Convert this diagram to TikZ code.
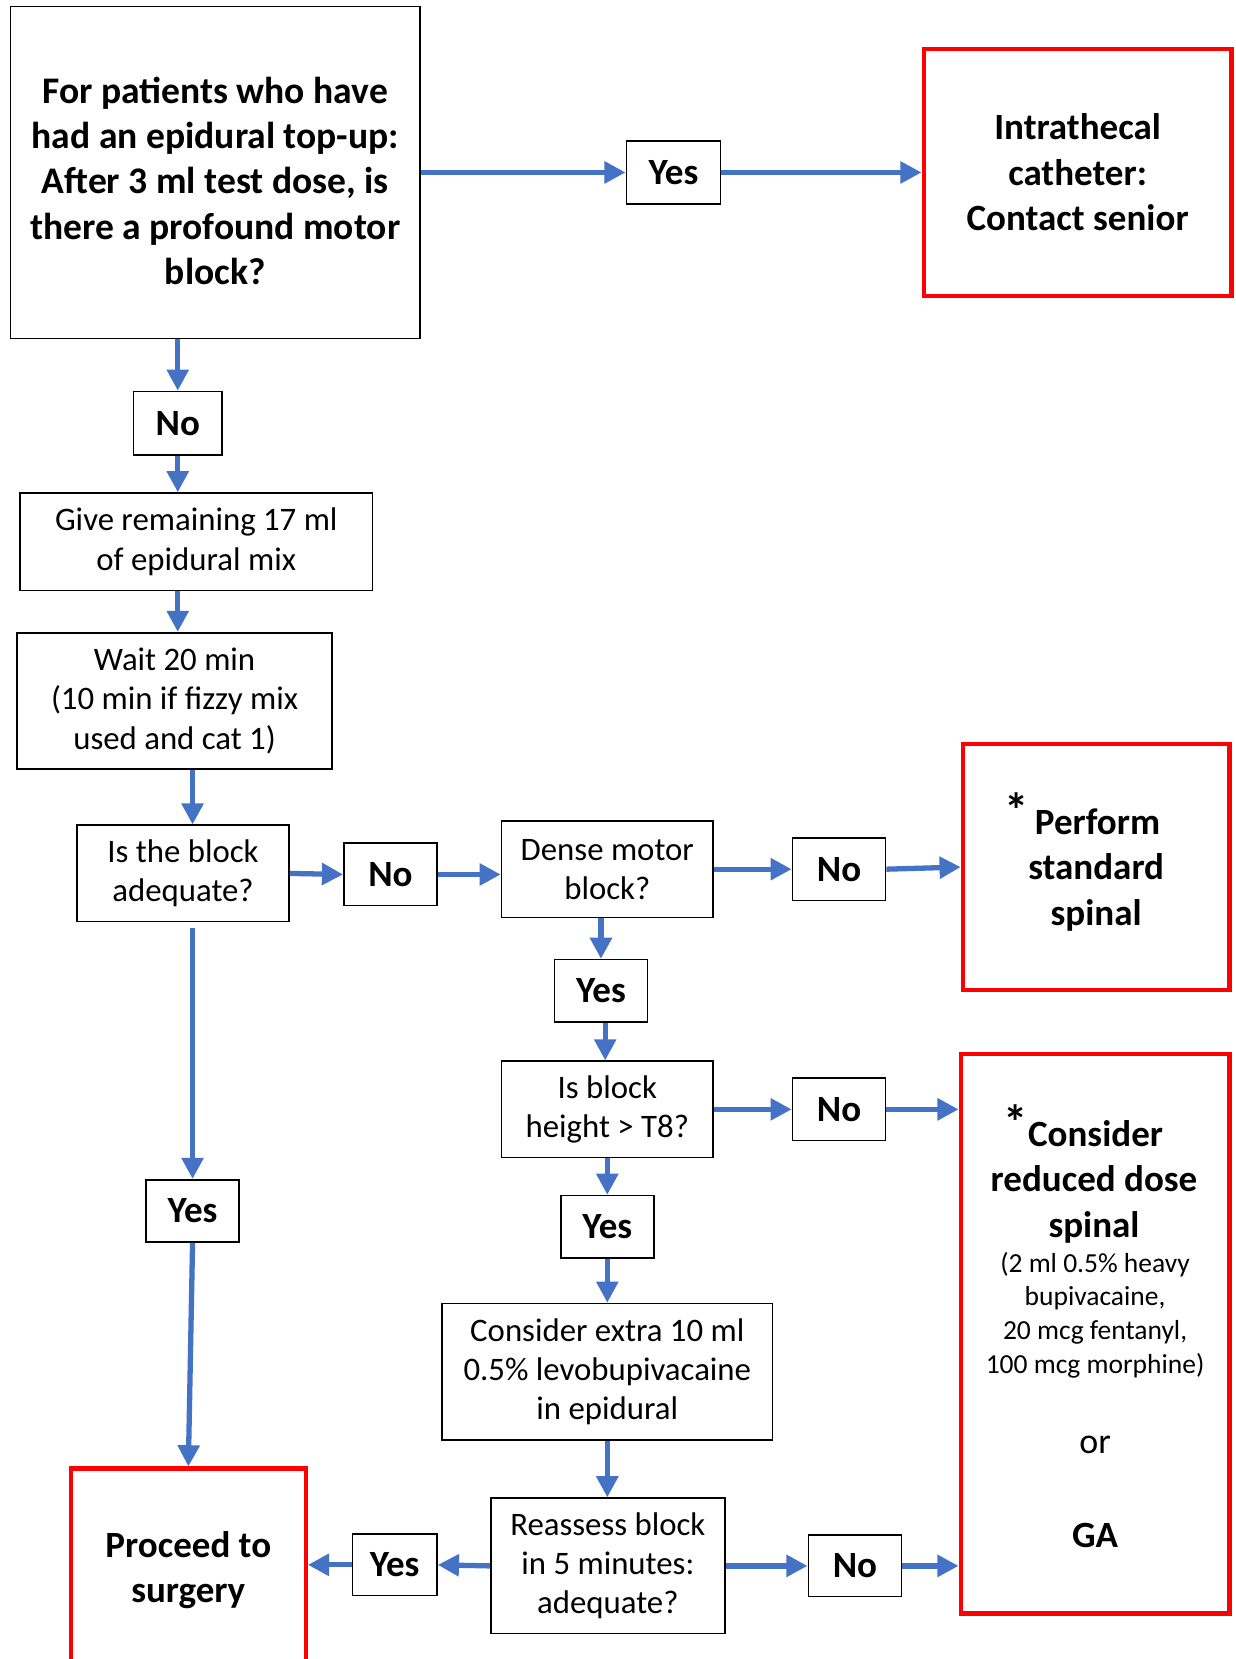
\documentclass[tikz,border=0pt]{standalone}
\usepackage{fontspec}
\setmainfont{Carlito}
\usetikzlibrary{arrows.meta,calc}
\definecolor{arrblue}{HTML}{4472C4}
\definecolor{redbox}{HTML}{FF0000}
\newcommand{\bigast}{\smash{\raisebox{0.18em}{\fontsize{46}{46}\selectfont *}}}
\begin{document}
\begin{tikzpicture}[x=1pt,y=-1pt,
  box/.style={draw=black,line width=1.5pt,inner sep=0pt,align=center},
  redb/.style={draw=redbox,line width=4pt,inner sep=0pt,align=center},
  reg/.style={font=\fontsize{31}{37}\selectfont},
  bbig/.style={font=\bfseries\fontsize{35}{43}\selectfont},
  bmain/.style={font=\bfseries\fontsize{35.5}{43}\selectfont},
  yn/.style={font=\bfseries\fontsize{35}{38}\selectfont},
  small/.style={font=\fontsize{26}{32}\selectfont},
  arr/.style={draw=arrblue,line width=5pt,-{Triangle[length=20pt,width=20pt]}}
]
\clip (0,0) rectangle (1168,1568);
\fill[white] (0,0) rectangle (1168,1568);

% boxes
\node[box,minimum width=387pt,minimum height=314pt] (main) at (203.5,163) {};
\node[bmain,align=center] (maintxt) at (203.5,171)
  {For patients who have\\had an epidural top-up:\\After 3 ml test dose, is\\there a profound motor\\block?};
\node[box,yn,minimum width=89pt,minimum height=60pt] (yes1) at (636.5,163) {Yes};
\node[redb,bbig,minimum width=291pt,minimum height=234pt] (intra) at (1018.5,163)
  {Intrathecal\\catheter:\\Contact senior};
\node[box,yn,minimum width=84pt,minimum height=60pt] (no1) at (168,400) {No};
\node[box,reg,minimum width=333pt,minimum height=92pt] (give) at (185.5,512)
  {Give remaining 17 ml\\of epidural mix};
\node[box,reg,minimum width=298pt,minimum height=129pt] (wait) at (165,662.5)
  {Wait 20 min\\(10 min if fizzy mix\\used and cat 1)};
\node[box,reg,minimum width=200pt,minimum height=91pt] (adeq) at (173,825.5)
  {Is the block\\adequate?};
\node[box,yn,minimum width=88pt,minimum height=59pt] (no2) at (369,826.5) {No};
\node[box,reg,minimum width=200pt,minimum height=91pt] (dense) at (574,821.5)
  {Dense motor\\block?};
\node[box,yn,minimum width=88pt,minimum height=59pt] (no3) at (793,821.5) {No};
\node[redb,minimum width=252pt,minimum height=233pt] (perform) at (1036,819.5) {};
\node[bbig,align=center] (ptxt) at (1036,822)
  {\bigast\,Perform\hspace*{26pt}\\standard\\spinal};
\node[box,yn,minimum width=88pt,minimum height=59pt] (yes2) at (568,936.5) {Yes};
\node[box,reg,minimum width=200pt,minimum height=91pt] (t8) at (574,1048.5)
  {Is block\\height > T8?};
\node[box,yn,minimum width=88pt,minimum height=59pt] (no4) at (793,1048.5) {No};
\node[redb,minimum width=254pt,minimum height=529pt] (consider) at (1035,1260.5) {};
\node[bbig,align=center] (ctxt) at (1034,1117) {\bigast Consider\hspace*{20pt}\\reduced dose\\spinal};
\node[small,align=center] (cdose) at (1035,1243) {(2 ml 0.5\% heavy\\bupivacaine,\\20 mcg fentanyl,\\100 mcg morphine)};
\node[font=\fontsize{34}{40}\selectfont] (cor) at (1035,1366) {or};
\node[bbig] (cga) at (1035,1451) {GA};
\node[box,yn,minimum width=88pt,minimum height=59pt] (yes3) at (574,1159.5) {Yes};
\node[box,reg,minimum width=312pt,minimum height=129pt] (extra) at (574,1296.5)
  {Consider extra 10 ml\\0.5\% levobupivacaine\\in epidural};
\node[box,reg,minimum width=221pt,minimum height=128pt] (reass) at (574.5,1480)
  {Reassess block\\in 5 minutes:\\adequate?};
\node[box,yn,minimum width=80pt,minimum height=58pt] (yes4) at (373,1479) {Yes};
\node[redb,bbig,minimum width=222pt,minimum height=192pt] (proceed) at (178,1484)
  {Proceed to\\surgery};
\node[box,yn,minimum width=88pt,minimum height=58pt] (no5) at (808,1480) {No};
\node[box,yn,minimum width=88pt,minimum height=59pt] (yes5) at (182,1144.5) {Yes};

% connectors
\draw[arr] (main.east) -- (yes1.west);
\draw[arr] (yes1.east) -- (intra.west);
\draw[arr] (no1.north |- main.south) -- (no1.north);
\draw[arr] (no1.south) -- (no1.south |- give.north);
\draw[arr] (no1.south |- give.south) -- (no1.south |- wait.north);
\draw[arr] (yes5.north |- wait.south) -- (yes5.north |- adeq.north);
\draw[arr] (adeq.east) -- (no2.west);
\draw[arr] (no2.east) -- (no2.east -| dense.west);
\draw[arr] (dense.east) -- (no3.west);
\draw[arr] (no3.east) -- (perform.west);
\draw[arr] (yes2.north |- dense.south) -- (yes2.north);
\draw[arr] ([xshift=4pt]yes2.south) -- ([xshift=4pt]yes2.south |- t8.north);
\draw[arr] (t8.east) -- (no4.west);
\draw[arr] (no4.east) -- (no4.east -| consider.west);
\draw[arr] (yes3.north |- t8.south) -- (yes3.north);
\draw[arr] (yes3.south) -- (yes3.south |- extra.north);
\draw[arr] (extra.south) -- (extra.south |- reass.north);
\draw[arr] (reass.west) -- (yes4.east);
\draw[arr] (yes4.west) -- (yes4.west -| proceed.east);
\draw[arr] (reass.east) -- (no5.west);
\draw[arr] (no5.east) -- (no5.east -| consider.west);
\draw[arr] ([yshift=-5pt]yes5.north |- adeq.south) -- (yes5.north);
\draw[arr] (yes5.south) -- (proceed.north);
\end{tikzpicture}
\end{document}
